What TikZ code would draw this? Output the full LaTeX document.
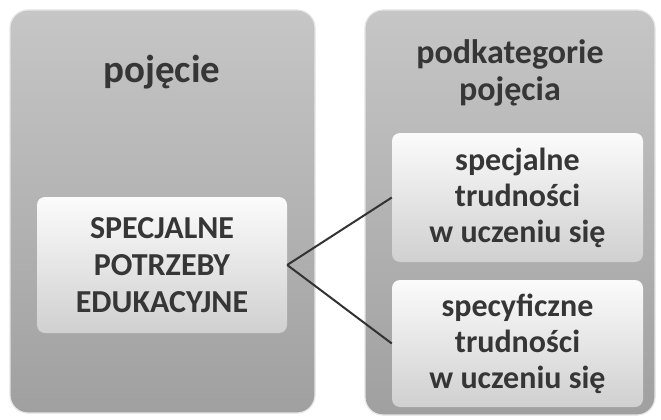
\documentclass[tikz,border=0pt]{standalone}
\usepackage{fontspec}
\setmainfont{Carlito}
\usetikzlibrary{positioning}
\definecolor{panellight}{HTML}{C6C6C6}
\definecolor{paneldark}{HTML}{A0A0A0}
\definecolor{boxlight}{HTML}{FBFBFB}
\definecolor{boxdark}{HTML}{D0D0D0}
\definecolor{inkgray}{HTML}{363636}
\tikzset{
  panel/.style={rounded corners=18pt, draw=white!80!gray, line width=1.2pt,
    top color=panellight, bottom color=paneldark, inner sep=0pt},
  itembox/.style={rounded corners=8pt, draw=none, top color=boxlight,
    bottom color=boxdark, inner sep=0pt, align=center, text=inkgray,
    font=\bfseries\fontsize{32}{37}\selectfont},
  headline/.style={align=center, text=inkgray, font=\bfseries\fontsize{34}{37}\selectfont},
  link/.style={line width=2pt, draw=black!80}
}
\begin{document}
\begin{tikzpicture}[x=1pt,y=-1pt]
\useasboundingbox (0,0) rectangle (661,420);
% the two grey columns
\node[panel, minimum width=305pt, minimum height=403pt] (leftpanel) at (162.5,211.5) {};
\node[panel, minimum width=290pt, minimum height=405pt] (rightpanel) at (510,212.5) {};
% headings
\node[headline, font=\bfseries\fontsize{39}{40}\selectfont] (concept) at (162,72) {pojęcie};
\node[headline] (subhead) at (510,73) {podkategorie\\pojęcia};
% boxes
\node[itembox, minimum width=250pt, minimum height=136pt] (spe) at (162,265)
  {SPECJALNE\\POTRZEBY\\EDUKACYJNE};
\node[itembox, minimum width=251pt, minimum height=129pt,
  font=\bfseries\fontsize{32}{36}\selectfont] (stu) at (517.5,197.5)
  {specjalne\\trudności\\w uczeniu się};
\node[itembox, minimum width=251pt, minimum height=127pt,
  font=\bfseries\fontsize{32}{36}\selectfont] (sfu) at (517.5,343.5)
  {specyficzne\\trudności\\w uczeniu się};
% connectors
\draw[link] (spe.east) -- (stu.west);
\draw[link] (spe.east) -- (sfu.west);
\end{tikzpicture}
\end{document}
